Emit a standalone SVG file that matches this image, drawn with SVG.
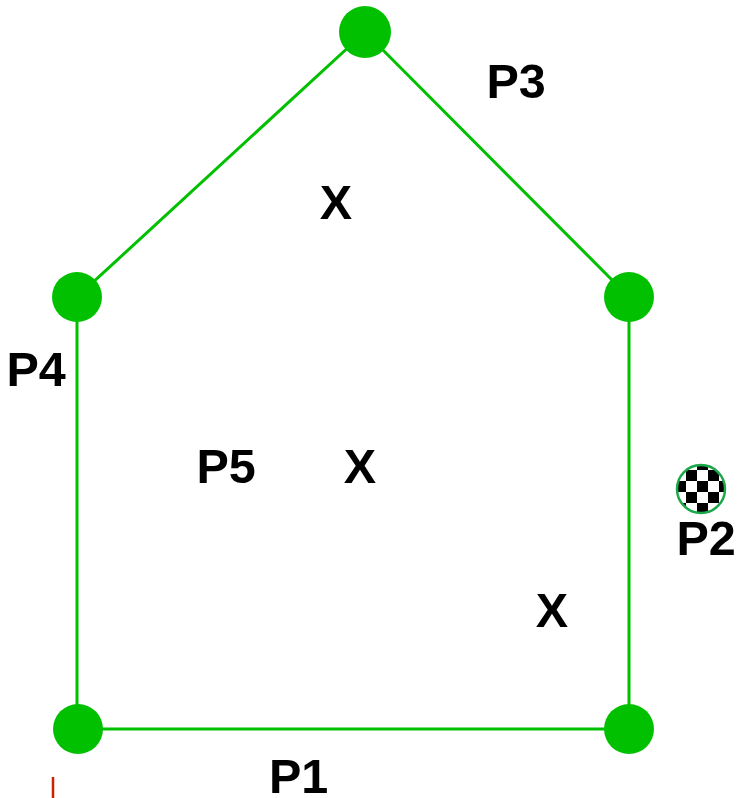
<svg xmlns="http://www.w3.org/2000/svg" width="738" height="798" viewBox="0 0 738 798">
<style>
.edge{fill:none;stroke:#00c000;stroke-width:3}
.vtx{fill:#00c000}
.lbl{font-family:"Liberation Sans",Arial,sans-serif;font-weight:bold;font-size:48.5px;fill:#000}
.mid{text-anchor:middle}
</style>
<defs>
<pattern id="chk" patternUnits="userSpaceOnUse" x="686" y="470" width="22" height="22">
<rect width="22" height="22" fill="#fff"/>
<rect width="11" height="11" fill="#000"/>
<rect x="11" y="11" width="11" height="11" fill="#000"/>
</pattern>
</defs>
<rect width="738" height="798" fill="#fff"/>
<g id="connectors">
<polyline class="edge" points="78,729 629,729 629,297 365,32 77,297 77,729"/>
</g>
<g id="v1"><circle class="vtx" cx="78" cy="729" r="25"/></g>
<g id="v2"><circle class="vtx" cx="629" cy="729" r="25"/></g>
<g id="v3"><circle class="vtx" cx="629" cy="297" r="25"/></g>
<g id="v4"><circle class="vtx" cx="365" cy="32" r="26"/></g>
<g id="v5"><circle class="vtx" cx="77" cy="297" r="25"/></g>
<g id="p2marker"><circle cx="701" cy="489" r="24" fill="url(#chk)" stroke="#1aa84a" stroke-width="2.5"/></g>
<g id="tick"><line x1="53" y1="777" x2="53" y2="798" stroke="#cc2200" stroke-width="2.5"/></g>
<g id="labels">
<text class="lbl" x="486.5" y="98">P3</text>
<text class="lbl" x="6.5" y="386">P4</text>
<text class="lbl" x="196.5" y="483">P5</text>
<text class="lbl" x="676.5" y="555">P2</text>
<text class="lbl" x="269" y="793">P1</text>
<text class="lbl mid" x="336" y="219">X</text>
<text class="lbl mid" x="360" y="483">X</text>
<text class="lbl mid" x="552" y="627">X</text>
</g>
</svg>
